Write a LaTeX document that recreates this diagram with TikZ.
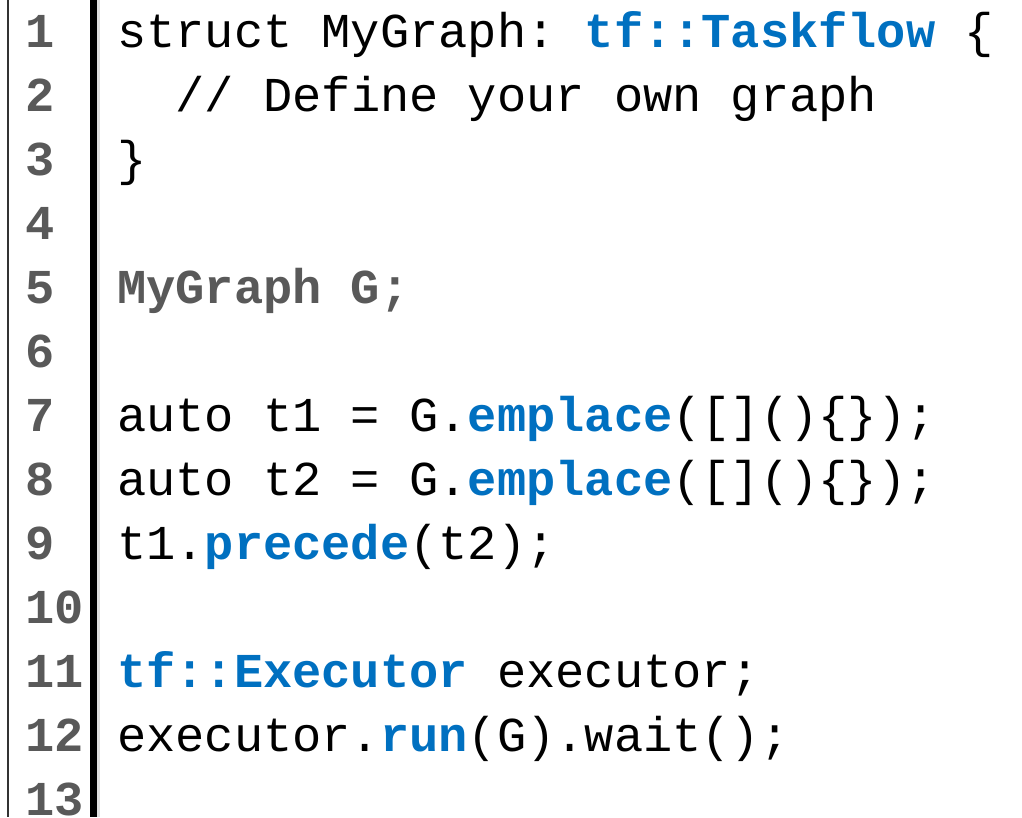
\documentclass[tikz,border=0pt]{standalone}
\usepackage{fontspec}
\setmonofont{Liberation Mono}
\usetikzlibrary{positioning}
\definecolor{kwblue}{HTML}{0070C0}
\definecolor{numgray}{HTML}{595959}
\newcommand{\codefont}{\fontsize{48.7}{64}\selectfont\ttfamily}
\newcommand{\kw}[1]{\textbf{\textcolor{kwblue}{#1}}}
\newcommand{\pitch}{64}
\newcommand{\codex}{117}
\tikzset{
  % --- text ---
  code/.style   = {anchor=base west, inner sep=0pt, font=\codefont},
  lineno/.style = {anchor=base west, inner sep=0pt, font=\codefont\bfseries,
                   text=numgray},
  % --- rules ---
  frame/.style  = {line width=1.5pt, black!80},
  gutter/.style = {line width=6.5pt, black},
  gshade/.style = {line width=3pt, black!12},
}

\begin{document}
\begin{tikzpicture}[x=1pt, y=1pt]
  \useasboundingbox (0,0) rectangle (1022,-817);
  \fill[white] (0,0) rectangle (1022,-817);

  % --- left frame and gutter bar ---
  \draw[frame]  (8,0) -- (8,-817);
  \draw[gshade] (98.5,0) -- (98.5,-817);
  \draw[gutter] (93.5,0) -- (93.5,-817);

  % --- line numbers (last one runs off the bottom) ---
  \foreach \i in {1,...,13}
    \node[lineno] (n\i) at (25, {-47-(\i-1)*\pitch}) {\i};

  % --- code ---
  \node[code] (l1) at (\codex, -47)
    {struct MyGraph: \kw{tf::Taskflow} \{};
  \node[code] (l2) at (\codex+58.5, -47-\pitch)
    {// Define your own graph};
  \node[code] (l3) at (\codex, -47-2*\pitch) {\}};
  \node[code, text=numgray, font=\codefont\bfseries] (l5) at (\codex, -47-4*\pitch)
    {MyGraph G;};
  \node[code] (l7) at (\codex, -47-6*\pitch)
    {auto t1 = G.\kw{emplace}([]()\{\});};
  \node[code] (l8) at (\codex, -47-7*\pitch)
    {auto t2 = G.\kw{emplace}([]()\{\});};
  \node[code] (l9) at (\codex, -47-8*\pitch)
    {t1.\kw{precede}(t2);};
  \node[code] (l11) at (\codex, -47-10*\pitch)
    {\kw{tf::Executor} executor;};
  \node[code] (l12) at (\codex, -47-11*\pitch)
    {executor.\kw{run}(G).wait();};

\end{tikzpicture}
\end{document}
